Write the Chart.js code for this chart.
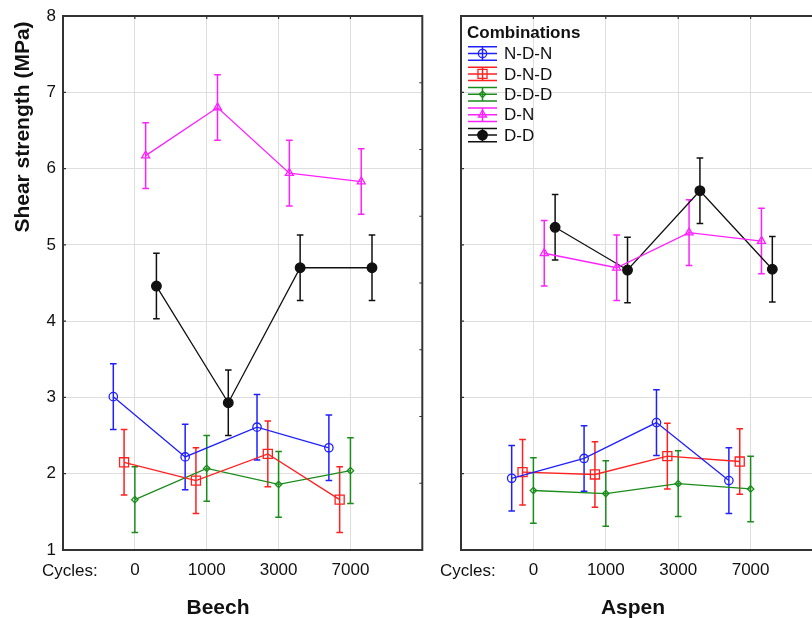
<!DOCTYPE html>
<html>
<head>
<meta charset="utf-8">
<script src="https://cdn.jsdelivr.net/npm/chart.js@4.4.0/dist/chart.umd.min.js"></script>
<style>
  html, body { margin: 0; padding: 0; background: #fff; overflow: hidden; }
  #wrap { position: relative; width: 812px; height: 618px; overflow: hidden; }
  #beech { position: absolute; left: 0; top: 0; }
  #aspen { position: absolute; left: 430px; top: 0; }
</style>
</head>
<body>
<div id="wrap">
  <canvas id="beech" width="430" height="618"></canvas>
  <canvas id="aspen" width="410" height="618"></canvas>
</div>
<script>
const cycles = ['0', '1000', '3000', '7000'];
const seriesNames = ['N-D-N', 'D-N-D', 'D-D-D', 'D-N', 'D-D'];
const yTicks = [1, 2, 3, 4, 5, 6, 7, 8];

// Beech - mean shear strength (MPa)
const beechNDN = [3.01, 2.22, 2.61, 2.34];
const beechDND = [2.15, 1.91, 2.26, 1.66];
const beechDDD = [1.66, 2.07, 1.86, 2.04];
const beechDN  = [6.17, 6.80, 5.94, 5.83];
const beechDD  = [4.46, 2.93, 4.70, 4.70];
// Beech - half length of error bars
const beechNDNErr = [0.43, 0.43, 0.43, 0.43];
const beechDNDErr = [0.43, 0.43, 0.43, 0.43];
const beechDDDErr = [0.43, 0.43, 0.43, 0.43];
const beechDNErr  = [0.43, 0.43, 0.43, 0.43];
const beechDDErr  = [0.43, 0.43, 0.43, 0.43];

// Aspen - mean shear strength (MPa)
const aspenNDN = [1.94, 2.20, 2.67, 1.91];
const aspenDND = [2.02, 1.99, 2.23, 2.16];
const aspenDDD = [1.78, 1.74, 1.87, 1.80];
const aspenDN  = [4.89, 4.70, 5.16, 5.05];
const aspenDD  = [5.23, 4.67, 5.71, 4.68];
// Aspen - half length of error bars
const aspenNDNErr = [0.43, 0.43, 0.43, 0.43];
const aspenDNDErr = [0.43, 0.43, 0.43, 0.43];
const aspenDDDErr = [0.43, 0.43, 0.43, 0.43];
const aspenDNErr  = [0.43, 0.43, 0.43, 0.43];
const aspenDDErr  = [0.43, 0.43, 0.43, 0.43];

// horizontal dodge of each series around the category position
const dodge = [-0.3, -0.15, 0, 0.15, 0.3];

const FONT = "'Liberation Sans', Arial, sans-serif";
const TEXT = '#111111';

const styles = [
    { color: '#2020ff', point: 'circle',   radius: 4.2, fill: false },
    { color: '#ff2020', point: 'rect',     radius: 6.4, fill: false },
    { color: '#1a8c1a', point: 'rectRot',  radius: 3.2, fill: false },
    { color: '#ff20ff', point: 'triangle', radius: 4.6, fill: false },
    { color: '#111111', point: 'circle',   radius: 4.8, fill: true }
];

function buildDatasets(means, errs) {
    return means.map((vals, s) => ({
        label: seriesNames[s],
        data: vals.map((v, i) => ({ x: i + 1 + dodge[s], y: v, err: errs[s][i] })),
        borderColor: styles[s].color,
        backgroundColor: styles[s].fill ? styles[s].color : 'rgba(0,0,0,0)',
        borderWidth: 1.3,
        pointStyle: styles[s].point,
        pointRadius: styles[s].radius,
        pointBorderWidth: 1.3,
        pointBorderColor: styles[s].color,
        pointBackgroundColor: styles[s].fill ? styles[s].color : 'rgba(0,0,0,0)',
        tension: 0,
        fill: false
    }));
}

function drawMarker(ctx, st, x, y) {
    ctx.save();
    ctx.strokeStyle = st.color;
    ctx.fillStyle = st.fill ? st.color : 'rgba(0,0,0,0)';
    ctx.lineWidth = 1.3;
    if (Chart.helpers && Chart.helpers.drawPoint) {
        Chart.helpers.drawPoint(ctx, { pointStyle: st.point, radius: st.radius, rotation: 0, borderWidth: 1.3 }, x, y);
    } else {
        ctx.beginPath();
        ctx.arc(x, y, st.radius, 0, Math.PI * 2);
        if (st.fill) ctx.fill();
        ctx.stroke();
    }
    ctx.restore();
}

// frame around the plot area with small inward ticks
const framePlugin = {
    id: 'frame',
    beforeDatasetsDraw(chart, args, opts) {
        const { ctx, chartArea: a, scales } = chart;
        ctx.save();
        ctx.strokeStyle = '#333';
        ctx.lineWidth = 1.2;
        ctx.beginPath();
        cycles.forEach((c, i) => {
            const px = scales.x.getPixelForValue(i + 1);
            ctx.moveTo(px, a.top); ctx.lineTo(px, a.top + 3);
        });
        if (opts.rightTicks) {
            for (let k = 1; k < opts.rightTicks; k++) {
                const py = a.top + k * (a.bottom - a.top) / opts.rightTicks;
                ctx.moveTo(a.right, py); ctx.lineTo(a.right - 3, py);
            }
        }
        yTicks.forEach(v => {
            const py = scales.y.getPixelForValue(v);
            ctx.moveTo(a.left, py); ctx.lineTo(a.left + 3, py);
        });
        ctx.stroke();
        ctx.lineWidth = 2;
        ctx.strokeRect(a.left, a.top, a.right - a.left, a.bottom - a.top);
        ctx.restore();
    }
};

const errorBarPlugin = {
    id: 'errorBars',
    beforeDatasetsDraw(chart) {
        const { ctx, scales: { x, y } } = chart;
        ctx.save();
        ctx.lineWidth = 1.5;
        chart.data.datasets.forEach(ds => {
            ctx.strokeStyle = ds.borderColor;
            ctx.beginPath();
            ds.data.forEach(p => {
                const px = x.getPixelForValue(p.x);
                const top = y.getPixelForValue(p.y + p.err);
                const bot = y.getPixelForValue(p.y - p.err);
                ctx.moveTo(px, top); ctx.lineTo(px, bot);
                ctx.moveTo(px - 3.3, top); ctx.lineTo(px + 3.3, top);
                ctx.moveTo(px - 3.3, bot); ctx.lineTo(px + 3.3, bot);
            });
            ctx.stroke();
        });
        ctx.restore();
    }
};

const labelsPlugin = {
    id: 'panelLabels',
    afterDraw(chart, args, opts) {
        const { ctx, chartArea: a } = chart;
        ctx.save();
        ctx.fillStyle = TEXT;
        ctx.font = `17px ${FONT}`;
        ctx.textAlign = 'left';
        ctx.textBaseline = 'middle';
        ctx.fillText('Cycles:', a.left - 21, a.bottom + 21);
        ctx.font = `bold 21px ${FONT}`;
        ctx.textAlign = 'center';
        ctx.fillText(opts.title, a.left + opts.titleOffset, a.bottom + 58);
        if (opts.yTitle) {
            ctx.translate(23, 127);
            ctx.rotate(-Math.PI / 2);
            ctx.fillText(opts.yTitle, 0, 0);
        }
        ctx.restore();
    }
};

const legendPlugin = {
    id: 'combLegend',
    afterDraw(chart, args, opts) {
        if (!opts.show) return;
        const { ctx, chartArea: a } = chart;
        ctx.save();
        ctx.fillStyle = TEXT;
        ctx.textBaseline = 'middle';
        ctx.textAlign = 'left';
        ctx.font = `bold 17px ${FONT}`;
        ctx.fillText('Combinations', a.left + 6, a.top + 17);
        ctx.font = `17px ${FONT}`;
        seriesNames.forEach((name, s) => {
            const cy = a.top + 37.5 + s * 20.4;
            const x0 = a.left + 7, x1 = a.left + 36, cx = (x0 + x1) / 2;
            ctx.strokeStyle = styles[s].color;
            ctx.lineWidth = 1.5;
            ctx.beginPath();
            ctx.moveTo(x0, cy - 6.7); ctx.lineTo(x1, cy - 6.7);
            ctx.moveTo(x0, cy); ctx.lineTo(x1, cy);
            ctx.moveTo(x0, cy + 6.7); ctx.lineTo(x1, cy + 6.7);
            ctx.moveTo(cx, cy - 6.7); ctx.lineTo(cx, cy + 6.7);
            ctx.stroke();
            drawMarker(ctx, styles[s], cx, cy);
            ctx.fillStyle = TEXT;
            ctx.fillText(name, a.left + 43, cy + 1);
        });
        ctx.restore();
    }
};

function makePanel(canvasId, datasets, cfg) {
    const ctx = document.getElementById(canvasId).getContext('2d');
    return new Chart(ctx, {
        type: 'line',
        data: { datasets },
        options: {
            responsive: false,
            animation: false,
            events: [],
            layout: { padding: { left: 0, right: cfg.padRight, top: 16, bottom: 0 } },
            plugins: {
                legend: { display: false },
                tooltip: { enabled: false },
                frame: { rightTicks: cfg.rightTicks },
                panelLabels: { title: cfg.title, titleOffset: cfg.titleOffset, yTitle: cfg.yTitle },
                combLegend: { show: cfg.legend }
            },
            scales: {
                x: {
                    type: 'linear',
                    min: 0,
                    max: 5,
                    afterBuildTicks: s => { s.ticks = cycles.map((c, i) => ({ value: i + 1 })); },
                    ticks: {
                        callback: v => cycles[v - 1],
                        font: { size: 17, family: FONT },
                        color: TEXT,
                        padding: 10,
                        maxRotation: 0,
                        autoSkip: false
                    },
                    grid: { color: '#dedede', lineWidth: 1, drawTicks: false },
                    border: { display: false },
                    afterFit: s => { s.height = 68; s.paddingLeft = 0; s.paddingRight = 0; }
                },
                y: {
                    min: 1,
                    max: 8,
                    afterBuildTicks: s => { s.ticks = yTicks.map(v => ({ value: v })); },
                    ticks: {
                        display: cfg.yLabels,
                        font: { size: 17, family: FONT },
                        color: TEXT,
                        padding: 7
                    },
                    grid: { color: '#dedede', lineWidth: 1, drawTicks: false },
                    border: { display: false },
                    afterFit: s => { s.width = cfg.yWidth; s.paddingTop = 0; s.paddingBottom = 0; }
                }
            }
        },
        plugins: [framePlugin, errorBarPlugin, labelsPlugin, legendPlugin]
    });
}

makePanel('beech',
    buildDatasets([beechNDN, beechDND, beechDDD, beechDN, beechDD],
                  [beechNDNErr, beechDNDErr, beechDDDErr, beechDNErr, beechDDErr]),
    { padRight: 2, yWidth: 63, yLabels: true, rightTicks: 8, title: 'Beech', titleOffset: 155,
      yTitle: 'Shear strength (MPa)', legend: false });

makePanel('aspen',
    buildDatasets([aspenNDN, aspenDND, aspenDDD, aspenDN, aspenDD],
                  [aspenNDNErr, aspenDNDErr, aspenDDDErr, aspenDNErr, aspenDDErr]),
    { padRight: 17, yWidth: 31, yLabels: false, rightTicks: 0, title: 'Aspen', titleOffset: 172,
      yTitle: null, legend: true });
</script>
</body>
</html>
